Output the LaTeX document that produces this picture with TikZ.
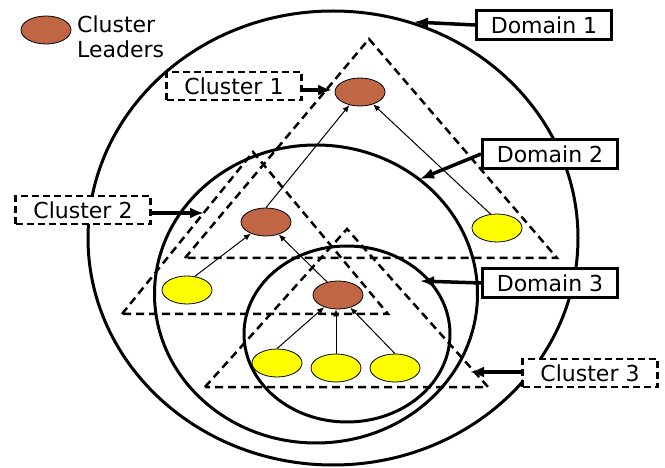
\documentclass[tikz,border=0pt]{standalone}
\usepackage{fontspec}
\setmainfont{DejaVu Sans}
\usetikzlibrary{shapes.geometric,arrows.meta}
\definecolor{leaderbrown}{RGB}{192,102,68}
\definecolor{memberyellow}{RGB}{255,255,0}
\tikzset{
  domainring/.style={ellipse,draw,line width=3pt,inner sep=0pt},
  clustertri/.style={draw,line width=2.5pt,dash pattern=on 8pt off 5pt},
  leader/.style={ellipse,draw,line width=0.8pt,fill=leaderbrown,minimum width=50pt,minimum height=28pt,inner sep=0pt},
  member/.style={ellipse,draw,line width=0.8pt,fill=memberyellow,minimum width=50pt,minimum height=28pt,inner sep=0pt},
  link/.style={line width=1pt,-{Latex[length=7pt,width=6pt]}},
  domainlabel/.style={draw,line width=3pt,fill=white,minimum width=135pt,minimum height=29pt,inner sep=0pt,font=\fontsize{22}{26}\selectfont},
  clusterlabel/.style={draw,line width=2.5pt,dash pattern=on 7pt off 4pt,fill=white,minimum width=135pt,minimum height=28pt,inner sep=0pt,font=\fontsize{22}{26}\selectfont},
  pointer/.style={line width=3.5pt,-{Latex[length=14pt,width=11pt]}}
}
\begin{document}
\begin{tikzpicture}[x=1pt,y=-1pt]
\useasboundingbox (0,0) rectangle (665,468);

% nested domains
\node[domainring,minimum width=490pt,minimum height=454pt] (dom1) at (333,238) {};
\node[domainring,minimum width=323pt,minimum height=298pt] (dom2) at (316,294) {};
\node[domainring,minimum width=206pt,minimum height=176pt] (dom3) at (347,334) {};

% cluster triangles
\coordinate (c1a) at (369,39);
\coordinate (c1l) at (185,258);
\coordinate (c1r) at (557,258);
\draw[clustertri] (c1l) -- (c1a) -- (c1r) -- cycle;
\coordinate (c2a) at (253,152);
\coordinate (c2l) at (122,314);
\coordinate (c2r) at (388,314);
\draw[clustertri] (c2l) -- (c2a) -- (c2r) -- cycle;
\coordinate (c3a) at (347,229);
\coordinate (c3l) at (205,387);
\coordinate (c3r) at (488,387);
\draw[clustertri] (c3l) -- (c3a) -- (c3r) -- cycle;

% cluster heads and members
\node[leader] (l1) at (360,92) {};
\node[leader] (l2) at (266,222) {};
\node[leader] (l3) at (338,295) {};
\node[member] (yr) at (497,228) {};
\node[member] (yl) at (187,290) {};
\node[member] (y1) at (277,363) {};
\node[member] (y2) at (336,368) {};
\node[member] (y3) at (395,368) {};

\draw[link] (l2.north) -- (l1);
\draw[link] (yr.115) -- (l1);
\draw[link] (yl.60) -- (l2);
\draw[link] (l3.130) -- (l2);
\draw[link] (y1.north) -- (l3);
\draw[link] (y2.north) -- (y2.north |- l3.south);
\draw[link] (y3.north) -- (l3);

% legend
\node[leader] (legend) at (46,30) {};
\node[anchor=west,align=left,inner sep=0pt,font=\fontsize{22}{25}\selectfont] (legendtext) at (77,37) {Cluster\\Leaders};

% labels
\node[domainlabel] (d1lab) at (544,25) {Domain 1};
\node[domainlabel] (d2lab) at (550,154) {Domain 2};
\node[domainlabel] (d3lab) at (550,283) {Domain 3};
\node[clusterlabel] (c1lab) at (234,86) {Cluster 1};
\node[clusterlabel] (c2lab) at (83,210) {Cluster 2};
\node[clusterlabel] (c3lab) at (590,373) {Cluster 3};

\coordinate (d1tip) at (414,22);
\coordinate (d2tip) at (420,179);
\coordinate (d3tip) at (420,281);
\coordinate (c1tip) at (332,90);
\coordinate (c2tip) at (204,213);
\coordinate (c3tip) at (470,372);
\draw[pointer] (d1lab.west) -- (d1tip);
\draw[pointer] (d2lab.west) -- (d2tip);
\draw[pointer] (d3lab.west) -- (d3tip);
\draw[pointer] (c1lab.east |- c1tip) -- (c1tip);
\draw[pointer] (c2lab.east |- c2tip) -- (c2tip);
\draw[pointer] (c3lab.west |- c3tip) -- (c3tip);
\end{tikzpicture}
\end{document}
